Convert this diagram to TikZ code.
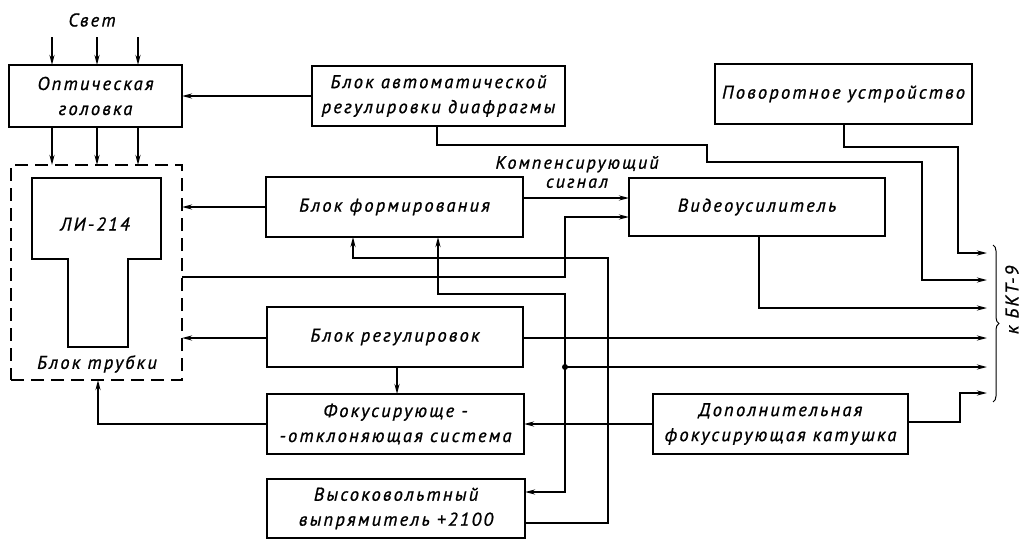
\documentclass[tikz,border=0pt]{standalone}
\usepackage{fontspec}
\setmainfont{PT Sans}
\newfontfamily\gost[LetterSpace=12,FakeBold=1]{PT Sans}
\usetikzlibrary{arrows.meta,decorations.pathreplacing,calc}
\begin{document}
\begin{tikzpicture}[x=1pt,y=-1pt,
  every node/.style={font=\gost\itshape\fontsize{18.5}{25}\selectfont},
  box/.style={draw,line width=1.7pt,inner sep=0pt,outer sep=0pt,align=center},
  arr/.style={line width=1.7pt,-{Stealth[length=10pt,width=5pt]}},
  tube/.style={draw,line width=1.3pt,dash pattern=on 13pt off 7pt}]
\useasboundingbox (0,0) rectangle (1027,541);
% boxes
\node[box,minimum width=173pt,minimum height=62pt] (opt) at (95.5,96) {Оптическая\\головка};
\node[box,minimum width=253pt,minimum height=60pt] (diaf) at (438.5,96) {Блок автоматической\\регулировки диафрагмы};
\node[box,minimum width=257pt,minimum height=60pt] (povor) at (843.5,94) {Поворотное устройство};
\node[box,minimum width=256pt,minimum height=58pt] (video) at (757,207) {Видеоусилитель};
\node[box,minimum width=257pt,minimum height=60pt] (form) at (394.5,207) {Блок формирования};
\node[box,minimum width=256pt,minimum height=60pt] (reg) at (395,337) {Блок регулировок};
\node[box,minimum width=257pt,minimum height=60pt] (focus) at (395.5,424) {Фокусирующе -\\-отклоняющая система};
\node[box,minimum width=258pt,minimum height=59pt] (hv) at (396,508.5) {Высоковольтный\\выпрямитель +2100};
\node[box,minimum width=255pt,minimum height=60pt] (dop) at (780.5,424) {Дополнительная\\фокусирующая катушка};
% tube block
\node[tube,minimum width=171pt,minimum height=215pt,inner sep=0pt,outer sep=0pt] (tb) at (96.5,272.5) {};
\draw[line width=1.7pt] (32,178) -- (161,178) -- (161,259) -- (128,259) -- (128,347) -- (68,347) -- (68,259) -- (32,259) -- cycle;
\node (li) at (95,224) {ЛИ-214};
\node (tbl) at (97,364) {Блок трубки};
% light
\node (svet) at (92,20) {Свет};
\foreach \x in {52,97,138} {
  \draw[arr] (\x,37) -- (opt.north -| \x,0);
  \draw[arr] (opt.south -| \x,0) -- (tb.north -| \x,0);
}
% BKT inputs
\coordinate (k1) at (987,253);
\coordinate (k2) at (987,280);
\coordinate (k3) at (987,308);
\coordinate (k4) at (987,338);
\coordinate (k5) at (987,367);
\coordinate (k6) at (987,393);
\coordinate (j) at (565,367);
% connectors
\draw[arr] (diaf.west) -- (opt.east |- diaf.west);
\draw[arr] (diaf.south -| 437,0) -- (437,145) -- (707,145) -- (707,162) -- (922,162) -- (922,280) -- (k2);
\draw[arr] (povor.south -| 844,0) -- (844,147) -- (958,147) -- (958,253) -- (k1);
\draw[arr] (form.east |- 0,198) -- (video.west |- 0,198);
\node[align=center,font=\gost\itshape\fontsize{18}{19}\selectfont] (komp) at (577,172) {Компенсирующий\\сигнал};
\draw[arr] (form.west) -- (tb.east |- form.west);
\draw[arr] (tb.east |- 0,277) -- (565,277) -- (565,217) -- (video.west |- 0,217);
\draw[arr] (video.south -| 759,0) -- (759,308) -- (k3);
\draw[arr] (reg.east |- 0,338) -- (k4);
\draw[arr] (reg.west |- 0,338) -- (tb.east |- 0,338);
\draw[arr] (j) -- (k5);
\draw[arr] (j) -- (565,294) -- (438,294) -- (form.south -| 438,0);
\draw[arr] (j) -- (565,492) -- (hv.east |- 0,492);
\fill (j) circle (3pt);
\draw[arr] (hv.east |- 0,523) -- (608,523) -- (608,258) -- (353,258) -- (form.south -| 353,0);
\draw[arr] (reg.south -| 397,0) -- (focus.north -| 397,0);
\draw[arr] (dop.west) -- (focus.east |- dop.west);
\draw[arr] (focus.west) -- (98,424) -- (tb.south -| 98,0);
\draw[arr] (dop.east |- 0,422) -- (960,422) -- (960,393) -- (k6);
% brace
\draw[line width=1pt,decorate,decoration={brace,amplitude=6pt}] (993,245) -- (993,402);
\node[rotate=90] (bkt) at (1012,300) {к БКТ-9};
\end{tikzpicture}
\end{document}
